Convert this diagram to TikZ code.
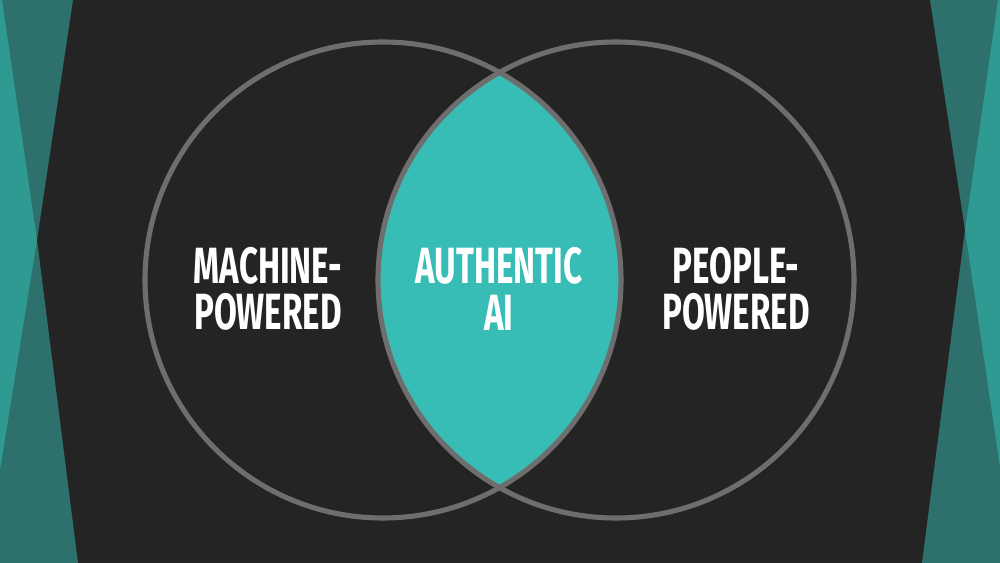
\documentclass[tikz,border=0pt]{standalone}
\usepackage{fontspec}
\setmainfont[FakeStretch=0.65]{Fira Sans}
\usepackage{tikz}
\definecolor{bgdark}{HTML}{252425}
\definecolor{tealdeep}{HTML}{2E706C}
\definecolor{teallight}{HTML}{2F9A92}
\definecolor{lensteal}{HTML}{37BDB5}
\definecolor{ringgray}{HTML}{6E6E6E}

\begin{document}
\begin{tikzpicture}[x=0.02cm, y=-0.02cm, line width=2.9pt,
    label/.style={text=white, align=center, font=\fontsize{29}{26.5}\selectfont\bfseries}]

  % Page in pixel units of the reference: (0,0) top left, (1000,563) bottom right.
  \fill[bgdark] (0,0) rectangle (1000,563);
  \useasboundingbox (0,0) rectangle (1000,563);

  % Side bands. The dark teal sits under, the light wedge sits on top of it.
  \fill[tealdeep] (0,0) -- (73,0) -- (37,240) -- (78,563) -- (0,563) -- cycle;
  \fill[teallight] (0,0) -- (2,0) -- (37,240) -- (0,470) -- cycle;
  \fill[tealdeep] (1000,0) -- (930,0) -- (965,230) -- (922,563) -- (1000,563) -- cycle;
  \fill[teallight] (1000,0) -- (998,0) -- (965,230) -- (1000,467) -- cycle;

  \coordinate (cm) at (383,280);
  \coordinate (cp) at (616,280);

  % The overlap: clip to one circle, fill the other.
  \begin{scope}
    \clip (cm) circle (238);
    \fill[lensteal] (cp) circle (238);
  \end{scope}
  \draw[ringgray] (cm) circle (238);
  \draw[ringgray] (cp) circle (238);

  \node[label] (machine) at (268,289) {MACHINE-\\POWERED};
  \node[label] (authentic) at (499,289) {AUTHENTIC\\AI};
  \node[label] (people) at (736,289) {PEOPLE-\\POWERED};

\end{tikzpicture}
\end{document}
